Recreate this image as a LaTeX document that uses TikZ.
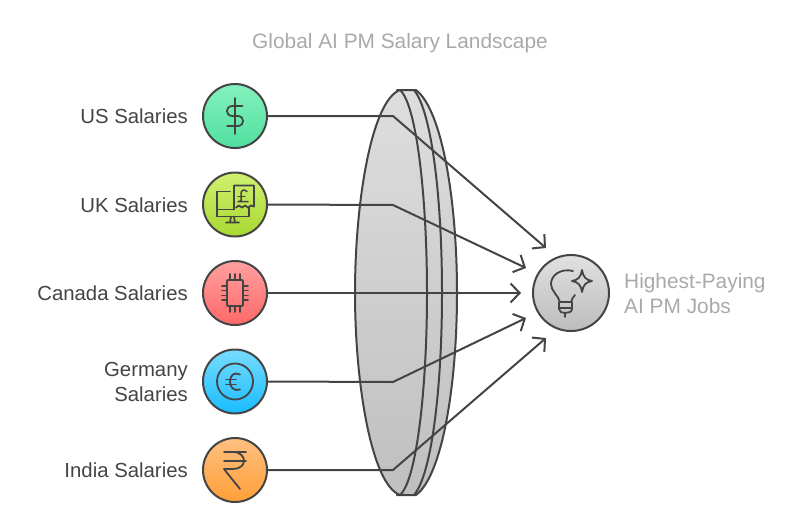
\documentclass[tikz,border=0pt]{standalone}
\usepackage{fontspec}
\setmainfont{Liberation Sans}
\usepackage{tikz}
\usetikzlibrary{arrows.meta}
\definecolor{ink}{HTML}{444444}
\definecolor{soft}{HTML}{A9A9A9}
\tikzstyle{source} = [circle, minimum size=64pt, inner sep=0pt, draw=ink, line width=2pt]
\tikzstyle{srclabel} = [font=\fontsize{20.35}{25}\selectfont, text=ink, align=right, anchor=east, inner sep=0pt]
\tikzstyle{softlabel} = [font=\fontsize{20.85}{25}\selectfont, text=soft, inner sep=0pt]
\tikzstyle{arrow} = [draw=ink, line width=2pt, -{Straight Barb[length=9pt,width=19pt,line width=2pt]}]
\tikzstyle{glyph} = [draw=ink, line width=1.8pt, line cap=round, line join=round]
\tikzstyle{lens} = [draw=ink, line width=2pt, line join=round, top color=black!13, bottom color=black!25]

\begin{document}
\begin{tikzpicture}[x=1pt, y=-1pt, node distance=88.5pt]
    \useasboundingbox (0,0) rectangle (800,525);
    %title
    \node (title) [softlabel] at (400,43.5) {Global AI PM Salary Landscape};

    %lens
    \path [lens] (397,90) -- (416,90) .. controls (442,110) and (457,200) .. (457,293)
        .. controls (457,386) and (442,476) .. (416,495) -- (397,495) -- cycle;
    \draw [glyph, line width=2pt] (414,90) .. controls (432,112) and (442,200) .. (442,293)
        .. controls (442,386) and (432,474) .. (414,495);
    \path [lens] (400,90) .. controls (372,100) and (355,200) .. (355,293)
        .. controls (355,386) and (372,485) .. (400,495)
        .. controls (417,480) and (427,386) .. (427,293)
        .. controls (427,200) and (417,105) .. (400,90) -- cycle;

    %sources
    \node (n_us) [source, top color={rgb,255:red,132;green,241;blue,189}, bottom color={rgb,255:red,80;green,224;blue,160}] at (235,116) {};
    \node (n_uk) [source, below of=n_us, top color={rgb,255:red,208;green,240;blue,112}, bottom color={rgb,255:red,168;green,216;blue,48}] {};
    \node (n_ca) [source, below of=n_uk, top color={rgb,255:red,255;green,160;blue,160}, bottom color={rgb,255:red,255;green,104;blue,104}] {};
    \node (n_de) [source, below of=n_ca, top color={rgb,255:red,120;green,220;blue,255}, bottom color={rgb,255:red,24;green,188;blue,255}] {};
    \node (n_in) [source, below of=n_de, top color={rgb,255:red,255;green,192;blue,128}, bottom color={rgb,255:red,255;green,159;blue,56}] {};
    \node (n_big) [source, minimum size=76pt, top color=black!12, bottom color=black!26] at (571,293) {};

    %labels
    \node (l_us) [srclabel] at (188,116) {US Salaries};
    \node (l_uk) [srclabel] at (188,205) {UK Salaries};
    \node (l_ca) [srclabel] at (188,293) {Canada Salaries};
    \node (l_de) [srclabel] at (188,382) {Germany\\Salaries};
    \node (l_in) [srclabel] at (188,470) {India Salaries};
    \node (l_big) [softlabel, align=left, anchor=west] at (624,294) {Highest-Paying\\AI PM Jobs};

    %bends and ends
    \coordinate (b_us) at (393,116);
    \coordinate (b_uk) at (393,205);
    \coordinate (b_de) at (393,382);
    \coordinate (b_in) at (393,470);
    \coordinate (e_us) at (546,248);
    \coordinate (e_uk) at (526,268);
    \coordinate (e_ca) at (521,293);
    \coordinate (e_de) at (526,318);
    \coordinate (e_in) at (546,338);

    %connectors
    \draw [arrow] (n_us.east) -- (b_us) -- (e_us);
    \draw [arrow] (n_uk.east) -- (b_uk) -- (e_uk);
    \draw [arrow] (n_ca.east) -- (e_ca);
    \draw [arrow] (n_de.east) -- (b_de) -- (e_de);
    \draw [arrow] (n_in.east) -- (b_in) -- (e_in);

    %dollar
    \begin{scope}[shift={(n_us.center)}]
        \draw [glyph] (0,-18) -- (0,18);
        \draw [glyph] (7.5,-10) -- (-2.5,-10) .. controls (-10,-10) and (-10,0) .. (-2.5,0) -- (2.5,0)
            .. controls (10,0) and (10,10) .. (2.5,10) -- (-8,10);
    \end{scope}
    %monitor and pound
    \begin{scope}[shift={(n_uk.center)}]
        \draw [glyph] (-5,-13) -- (-18,-13) -- (-18,12) -- (14,12) -- (14,3);
        \draw [glyph] (-18,5) -- (-1,5);
        \draw [glyph] (-4,12) -- (-5,18) (-9,18) -- (4,18) (-1,12) -- (0,18);
        \draw [glyph] (-1,5) -- (-1,-19) -- (19,-19) -- (19,2) -- (16,1) -- (13,3) -- (10,1) -- (7,3) -- (4,1) -- (1,3);
        \draw [glyph, line width=1.5pt] (12,-13) .. controls (9,-16) and (6,-14) .. (6,-11) -- (6,-4) .. controls (6,-3) and (5,-3) .. (3,-3) -- (13,-3);
        \draw [glyph, line width=1.5pt] (3,-8) -- (10,-8);
    \end{scope}
    %chip
    \begin{scope}[shift={(n_ca.center)}]
        \draw [glyph, rounded corners=1pt] (-8,-13) rectangle (8,13);
        \foreach \px in {-5,0,5}
            \draw [glyph] (\px,-13) -- (\px,-19) (\px,13) -- (\px,19);
        \foreach \py in {-7,-2.5,2.5,7}
            \draw [glyph] (-8,\py) -- (-13,\py) (8,\py) -- (13,\py);
    \end{scope}
    %euro
    \begin{scope}[shift={(n_de.center)}]
        \draw [glyph] (0,0) circle [radius=18];
        \draw [glyph] (5,-7) .. controls (-1,-10) and (-5,-6) .. (-5,0) .. controls (-5,6) and (-1,10) .. (5,8);
        \draw [glyph] (-9,-2) -- (1,-2) (-9,3) -- (1,3);
    \end{scope}
    %rupee
    \begin{scope}[shift={(n_in.center)}]
        \draw [glyph] (-11,-18) -- (11,-18) (-11,-9) -- (11,-9);
        \draw [glyph] (-2,-18) .. controls (6,-18) and (9,-13) .. (9,-9) .. controls (9,-5) and (5,-1) .. (-2,-1) -- (-11,-1) -- (5,19);
    \end{scope}
    %bulb and star
    \begin{scope}[shift={(n_big.center)}]
        \draw [glyph] (2,-22) .. controls (-10,-25) and (-20,-18) .. (-20,-9)
            .. controls (-20,-2) and (-13,2) .. (-11,9) -- (0,9) .. controls (1,6) and (2,4) .. (4,2);
        \draw [glyph] (-12,9) -- (-12,16) .. controls (-12,19) and (-9,20) .. (-6,20)
            .. controls (-3,20) and (1,19) .. (1,16) -- (1,9);
        \draw [glyph] (-12,15) -- (1,15) (-6,20) -- (-6,24);
        \draw [glyph] (11,-23) .. controls (12,-16) and (15,-13) .. (21,-12)
            .. controls (15,-11) and (12,-8) .. (11,-1)
            .. controls (10,-8) and (7,-11) .. (1,-12)
            .. controls (7,-13) and (10,-16) .. (11,-23) -- cycle;
    \end{scope}
\end{tikzpicture}
\end{document}
